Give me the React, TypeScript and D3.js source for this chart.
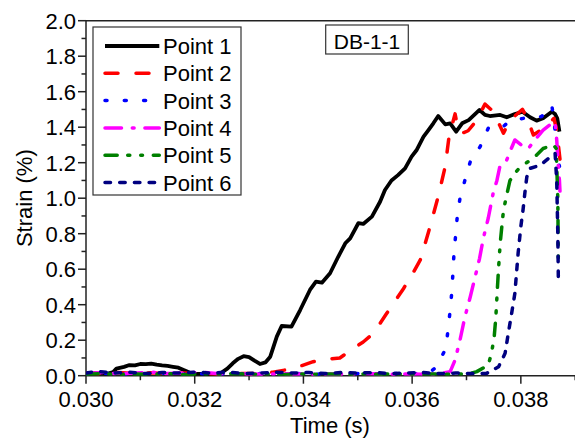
import React from "react";
import * as d3 from "d3";

const seriesNames = ["Point 1", "Point 2", "Point 3", "Point 4", "Point 5", "Point 6"];
const seriesColors = ["#000000", "#ff0000", "#0000ff", "#ff00ff", "#008000", "#000080"];
const seriesDash = ["", "13,18", "2,17.3", "16.5,10.8,1.8,10.8", "12.2,10.5,2.1,10.9,1.8,10.8", "5.5,9.2"];

const xTicks = [0.030, 0.032, 0.034, 0.036, 0.038];
const xMinor = [0.031, 0.033, 0.035, 0.037, 0.039];
const yTicks = [0, 0.2, 0.4, 0.6, 0.8, 1.0, 1.2, 1.4, 1.6, 1.8, 2.0];
const yMinor = [0.1, 0.3, 0.5, 0.7, 0.9, 1.1, 1.3, 1.5, 1.7, 1.9];

const t1 = [0.0300, 0.0302, 0.0304, 0.0305, 0.03056, 0.0307, 0.0308, 0.0309, 0.0310, 0.0311, 0.0312, 0.0313, 0.0314, 0.0315, 0.0316, 0.0317, 0.03185, 0.0319, 0.0320, 0.0321, 0.0322, 0.0323, 0.03247, 0.0326, 0.0327, 0.0328, 0.0329, 0.0330, 0.0331, 0.0332, 0.0333, 0.03339, 0.03351, 0.0336, 0.03378, 0.03394, 0.03412, 0.03423, 0.03434, 0.03449, 0.03464, 0.03477, 0.03486, 0.03501, 0.0351, 0.03526, 0.03541, 0.0355, 0.03562, 0.03574, 0.03587, 0.03599, 0.03608, 0.03621, 0.0363, 0.03639, 0.03648, 0.03661, 0.0367, 0.03681, 0.03692, 0.03704, 0.03724, 0.03734, 0.03743, 0.03762, 0.03774, 0.03789, 0.03803, 0.03817, 0.03829, 0.03841, 0.03857, 0.03863, 0.03867, 0.03871];
const v1 = [0.01, 0.015, 0.012, 0.02, 0.04, 0.05, 0.06, 0.058, 0.066, 0.065, 0.068, 0.062, 0.058, 0.055, 0.05, 0.045, 0.025, 0.018, 0.012, 0.01, 0.008, 0.01, 0.012, 0.04, 0.07, 0.095, 0.11, 0.105, 0.085, 0.066, 0.075, 0.107, 0.22, 0.28, 0.276, 0.37, 0.483, 0.53, 0.524, 0.577, 0.67, 0.746, 0.774, 0.859, 0.855, 0.896, 0.98, 1.046, 1.1, 1.13, 1.168, 1.234, 1.27, 1.347, 1.384, 1.422, 1.463, 1.416, 1.422, 1.375, 1.422, 1.44, 1.497, 1.469, 1.463, 1.469, 1.456, 1.474, 1.487, 1.456, 1.437, 1.45, 1.487, 1.474, 1.45, 1.375];

const t2 = [0.0300, 0.0303, 0.0306, 0.0309, 0.0312, 0.0315, 0.0318, 0.0321, 0.0324, 0.0327, 0.0330, 0.0333, 0.03344, 0.03381, 0.03418, 0.0345, 0.03467, 0.03492, 0.0351, 0.03529, 0.03553, 0.03584, 0.0360, 0.03615, 0.03633, 0.03648, 0.03661, 0.03668, 0.03679, 0.03685, 0.03695, 0.03703, 0.03719, 0.03734, 0.03745, 0.03755, 0.03768, 0.0378, 0.03803, 0.03812, 0.03823, 0.03835, 0.03845, 0.03861, 0.03866, 0.03872];
const v2 = [0.015, 0.01, 0.018, 0.012, 0.016, 0.01, 0.015, 0.012, 0.01, 0.014, 0.012, 0.015, 0.02, 0.04, 0.079, 0.095, 0.1, 0.154, 0.19, 0.239, 0.35, 0.49, 0.57, 0.652, 0.84, 1.01, 1.18, 1.35, 1.475, 1.38, 1.37, 1.38, 1.44, 1.53, 1.5, 1.45, 1.366, 1.44, 1.5, 1.45, 1.356, 1.38, 1.4, 1.45, 1.38, 1.22];

const t3 = [0.0300, 0.0303, 0.0306, 0.0309, 0.0312, 0.0315, 0.0318, 0.0321, 0.0324, 0.0327, 0.0330, 0.0333, 0.0336, 0.0339, 0.0342, 0.0345, 0.0348, 0.0351, 0.0354, 0.0357, 0.0360, 0.0362, 0.03635, 0.03645, 0.03662, 0.03666, 0.0367, 0.03673, 0.03675, 0.03677, 0.0368, 0.03683, 0.03688, 0.03697, 0.03707, 0.03725, 0.0374, 0.03762, 0.0378, 0.03805, 0.03838, 0.03857, 0.03866, 0.03869, 0.03871];
const v3 = [0.01, 0.015, 0.008, 0.012, 0.01, 0.015, 0.01, 0.012, 0.008, 0.012, 0.01, 0.014, 0.01, 0.012, 0.008, 0.012, 0.01, 0.013, 0.01, 0.012, 0.01, 0.015, 0.025, 0.05, 0.154, 0.257, 0.37, 0.473, 0.577, 0.69, 0.79, 0.896, 0.999, 1.1, 1.206, 1.29, 1.394, 1.388, 1.437, 1.45, 1.46, 1.525, 1.31, 1.206, 1.18];

const t4 = [0.0300, 0.0303, 0.0306, 0.0309, 0.0312, 0.0315, 0.0318, 0.0321, 0.0324, 0.0327, 0.0330, 0.0333, 0.0336, 0.0339, 0.0342, 0.0345, 0.0348, 0.0351, 0.0354, 0.0357, 0.0360, 0.0363, 0.0365, 0.0367, 0.03679, 0.03688, 0.03697, 0.03707, 0.03716, 0.03724, 0.03731, 0.0374, 0.03749, 0.03756, 0.03762, 0.03774, 0.0378, 0.03789, 0.03805, 0.03814, 0.03823, 0.03841, 0.03857, 0.03863, 0.03866, 0.03869, 0.03871, 0.03872];
const v4 = [0.012, 0.018, 0.01, 0.015, 0.02, 0.012, 0.016, 0.02, 0.012, 0.015, 0.01, 0.008, 0.012, 0.01, 0.008, 0.01, 0.008, 0.012, 0.01, 0.008, 0.01, 0.008, 0.012, 0.023, 0.088, 0.2, 0.33, 0.445, 0.558, 0.66, 0.774, 0.887, 1.027, 1.1, 1.187, 1.215, 1.262, 1.328, 1.29, 1.28, 1.318, 1.384, 1.422, 1.43, 1.328, 1.177, 1.1, 1.04];

const t5 = [0.0300, 0.0303, 0.0306, 0.0309, 0.0312, 0.0315, 0.0318, 0.0321, 0.0324, 0.0327, 0.0330, 0.0333, 0.0336, 0.0339, 0.0342, 0.0345, 0.0348, 0.0351, 0.0354, 0.0357, 0.0360, 0.0363, 0.0366, 0.0369, 0.0371, 0.03719, 0.0374, 0.03746, 0.03751, 0.03754, 0.03757, 0.03759, 0.03762, 0.03765, 0.03768, 0.03774, 0.0378, 0.03789, 0.03799, 0.03823, 0.03841, 0.0386, 0.03865, 0.03868, 0.03869];
const v5 = [0.008, 0.012, 0.006, 0.01, 0.008, 0.012, 0.006, 0.01, 0.008, 0.012, 0.008, 0.01, 0.006, 0.01, 0.008, 0.01, 0.006, 0.01, 0.008, 0.01, 0.008, 0.01, 0.008, 0.01, 0.015, 0.023, 0.06, 0.126, 0.22, 0.33, 0.5, 0.605, 0.746, 0.84, 0.93, 1.018, 1.1, 1.14, 1.177, 1.225, 1.28, 1.3, 1.28, 1.0, 0.63];

const t6 = [0.0300, 0.0302, 0.0305, 0.0308, 0.0311, 0.0314, 0.0317, 0.0320, 0.0323, 0.0326, 0.0329, 0.0332, 0.0335, 0.0338, 0.0341, 0.0344, 0.0347, 0.0350, 0.0353, 0.0356, 0.0359, 0.0362, 0.0365, 0.0368, 0.0371, 0.03737, 0.03759, 0.03771, 0.03777, 0.03783, 0.03789, 0.03792, 0.03795, 0.038, 0.03804, 0.03808, 0.03811, 0.03817, 0.03836, 0.03851, 0.03863, 0.03866, 0.03868, 0.03869];
const v6 = [0.015, 0.025, 0.015, 0.02, 0.012, 0.018, 0.015, 0.02, 0.015, 0.02, 0.012, 0.015, 0.02, 0.015, 0.018, 0.012, 0.018, 0.015, 0.018, 0.012, 0.015, 0.018, 0.012, 0.015, 0.012, 0.013, 0.05, 0.126, 0.24, 0.35, 0.464, 0.577, 0.69, 0.84, 0.934, 1.046, 1.12, 1.168, 1.187, 1.225, 1.253, 1.1, 0.8, 0.54];

const seriesT = [t1, t2, t3, t4, t5, t6];
const seriesV = [v1, v2, v3, v4, v5, v6];

const W = 575;
const H = 444;
const L = 86;
const R = 575.2;
const T = 20.7;
const B = 375.7;
const FONT = "'Liberation Sans', Arial, sans-serif";
const AX = "#222";

export default function App() {
  const x = d3.scaleLinear().domain([0.030, 0.039]).range([L, R]);
  const y = d3.scaleLinear().domain([0, 2]).range([B, T]);

  const lineGen = d3
    .line<[number, number]>()
    .x((d) => x(d[0]))
    .y((d) => y(d[1]));

  const paths = seriesT.map((ts, k) => {
    const pts: [number, number][] = ts.map((t, i) => [t, seriesV[k][i]]);
    return lineGen(pts) as string;
  });

  const fx = d3.format(".3f");
  const fy = d3.format(".1f");

  const legX0 = 105;
  const legX1 = 159.3;
  const legY0 = 46;
  const legDy = 27.3;

  return (
    <svg
      width={W}
      height={H}
      style={{ position: "absolute", left: 0, top: 0, background: "#fff" }}
      fontFamily={FONT}
    >
      <rect x={0} y={0} width={W} height={H} fill="#fff" />
      <defs>
        <clipPath id="plotclip">
          <rect x={L} y={T - 5} width={R - L + 5} height={B - T + 5} />
        </clipPath>
      </defs>

      <line x1={L} y1={T} x2={L} y2={B} stroke={AX} strokeWidth={1.5} />
      <line x1={L} y1={B} x2={W} y2={B} stroke={AX} strokeWidth={1.5} />
      <line x1={L} y1={T} x2={W} y2={T} stroke={AX} strokeWidth={1.5} />

      {xTicks.map((t) => (
        <g key={"xt" + t}>
          <line x1={x(t)} x2={x(t)} y1={B} y2={B + 8} stroke={AX} strokeWidth={1.5} />
          <text x={x(t)} y={406.5} fontSize={22} textAnchor="middle" fill="#000">
            {fx(t)}
          </text>
        </g>
      ))}
      {xMinor.map((t) => (
        <line key={"xm" + t} x1={x(t)} x2={x(t)} y1={B} y2={B + 4.5} stroke={AX} strokeWidth={1.5} />
      ))}
      {yTicks.map((v) => (
        <g key={"yt" + v}>
          <line x1={L - 8} x2={L} y1={y(v)} y2={y(v)} stroke={AX} strokeWidth={1.5} />
          <text x={76} y={y(v) + 8} fontSize={22} textAnchor="end" fill="#000">
            {fy(v)}
          </text>
        </g>
      ))}
      {yMinor.map((v) => (
        <line key={"ym" + v} x1={L - 4.5} x2={L} y1={y(v)} y2={y(v)} stroke={AX} strokeWidth={1.5} />
      ))}

      <text x={330} y={433} fontSize={22} textAnchor="middle" fill="#000">
        Time (s)
      </text>
      <text
        transform={`translate(32,${(T + B) / 2}) rotate(-90)`}
        fontSize={22}
        textAnchor="middle"
        fill="#000"
      >
        Strain (%)
      </text>

      <g clipPath="url(#plotclip)">
        {paths.map((d, k) => (
          <path
            key={"s" + k}
            d={d}
            fill="none"
            stroke={seriesColors[k]}
            strokeWidth={k === 0 ? 3.8 : 3.5}
            strokeDasharray={seriesDash[k] || undefined}
            strokeLinecap={k === 0 ? "butt" : "round"}
            strokeLinejoin="round"
          />
        ))}
      </g>

      <rect x={93} y={27} width={148} height={168} fill="#fff" stroke="#333" strokeWidth={1.2} />
      {seriesNames.map((n, k) => (
        <g key={"lg" + k}>
          <line
            x1={legX0}
            x2={legX1}
            y1={legY0 + k * legDy}
            y2={legY0 + k * legDy}
            stroke={seriesColors[k]}
            strokeWidth={k === 0 ? 3.8 : 3.5}
            strokeDasharray={seriesDash[k] || undefined}
            strokeLinecap={k === 0 ? "butt" : "round"}
          />
          <text x={163} y={legY0 + k * legDy + 8} fontSize={22} fill="#000">
            {n}
          </text>
        </g>
      ))}

      <rect x={325.7} y={25} width={82.6} height={29} fill="#fff" stroke="#333" strokeWidth={1.2} />
      <text x={367} y={49.3} fontSize={21} textAnchor="middle" fill="#000">
        DB-1-1
      </text>
    </svg>
  );
}
